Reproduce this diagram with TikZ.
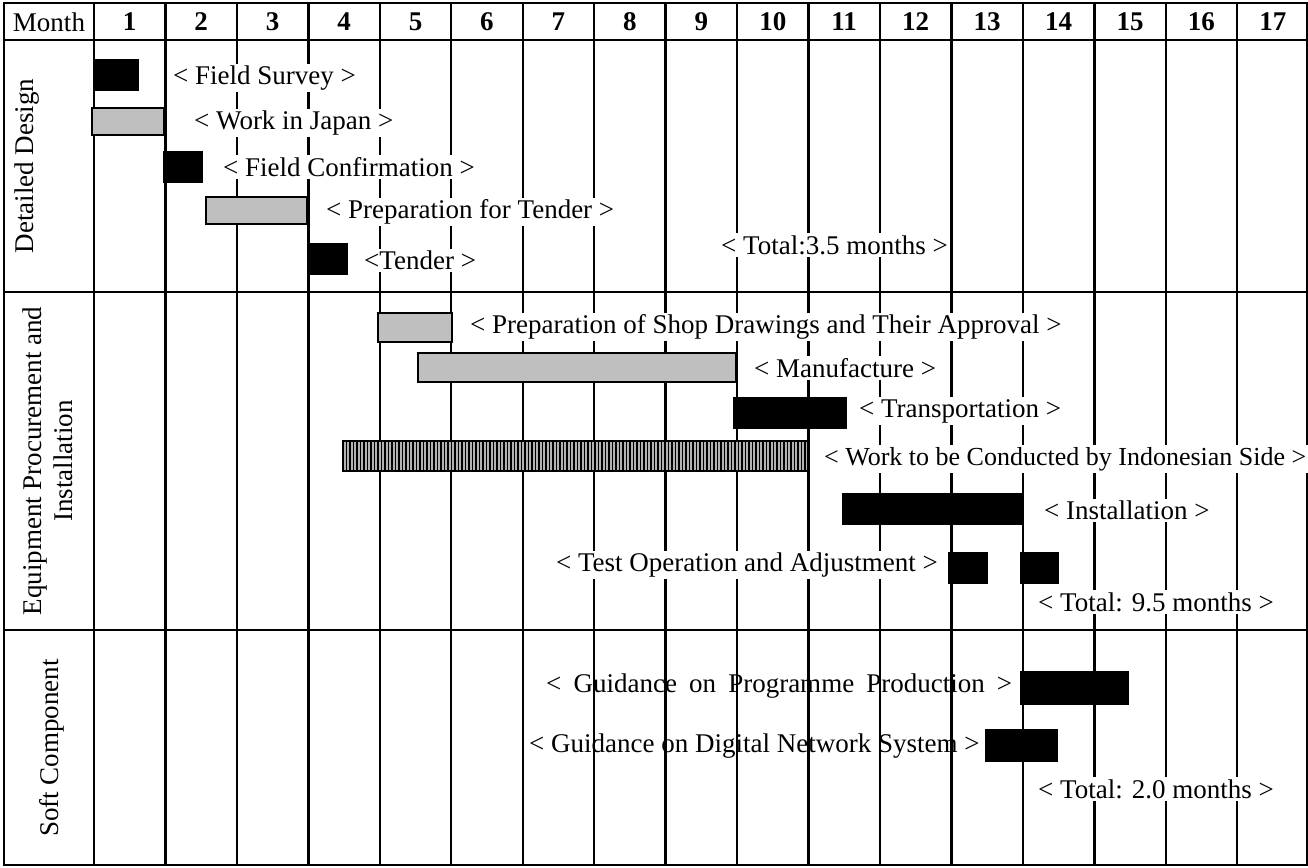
\documentclass[tikz,border=0pt]{standalone}
\usepackage{fontspec}
\setmainfont{Liberation Serif}
\usetikzlibrary{patterns.meta}

\begin{document}
\begin{tikzpicture}[x=0.5pt, y=-0.5pt, line width=1.2pt,
    every node/.style={font=\fontsize{13.5}{15.5}\selectfont, inner sep=1pt},
    hdr/.style={font=\fontsize{13.5}{15.5}\selectfont\bfseries},
    lbl/.style={anchor=west, fill=white},
    blackbar/.style={fill=black, draw=black, line width=0.6pt},
    graybar/.style={fill=black!25, draw=black, line width=1pt},
    hatchbar/.style={fill=black!30, draw=black, line width=1pt,
        postaction={pattern={Lines[angle=90, distance=1.75pt, line width=0.6pt]}, pattern color=black}}]
    \useasboundingbox (0,0) rectangle (1308,868);
    \clip (0,0) rectangle (1308,868);

    % table grid
    \draw (4,3) rectangle (1307,865);
    \foreach \y in {40,292,630} \draw (4,\y) -- (1307,\y);
    \draw (94,3) -- (94,865);
    \foreach \i in {1,...,16} \draw ({94+71.45*\i},3) -- ({94+71.45*\i},865);

    % header
    \node (month) at (49,22) {Month};
    \foreach \i in {1,...,17} \node[hdr] (m\i) at ({94+71.45*(\i-0.5)},22) {\i};

    % row titles
    \node[rotate=90] (dd) at (27,166) {Detailed Design};
    \node[rotate=90, align=center] (ep) at (48,461) {Equipment Procurement and\\Installation};
    \node[rotate=90] (sc) at (52,748) {Soft Component};

    % detailed design
    \draw[blackbar] (94,60) rectangle (138,90);
    \draw[graybar] (92,108) rectangle (164,135);
    \draw[blackbar] (164,152) rectangle (202,182);
    \draw[graybar] (206,197) rectangle (307,224);
    \draw[blackbar] (309,244) rectangle (347,274);
    \node[lbl] (fs) at (170,78) {< Field Survey >};
    \node[lbl] (wj) at (191,123) {< Work in Japan >};
    \node[lbl] (fc) at (220,167) {< Field Confirmation >};
    \node[lbl] (pt) at (323,212) {< Preparation for Tender >};
    \node[lbl] (td) at (361,260) {<Tender >};
    \node[lbl] (t1) at (718,245) {< Total:3.5 months >};

    % equipment procurement and installation
    \draw[graybar] (378,313) rectangle (452,342);
    \draw[graybar] (418,353) rectangle (736,382);
    \draw[blackbar] (734,398) rectangle (846,428);
    \draw[hatchbar] (343,441) rectangle (808,471);
    \draw[blackbar] (843,494) rectangle (1023,524);
    \draw[blackbar] (949,553) rectangle (987,583);
    \draw[blackbar] (1021,553) rectangle (1058,583);
    \node[lbl] (sd) at (467,327) {< Preparation of Shop Drawings and Their Approval >};
    \node[lbl] (mf) at (751,368) {< Manufacture >};
    \node[lbl] (tr) at (856,411) {< Transportation >};
    \node[lbl, font=\fontsize{13}{15.5}\selectfont] (ws) at (821,459) {< Work to be Conducted by Indonesian Side >};
    \node[lbl] (in) at (1041,510) {< Installation >};
    \node[lbl, anchor=east] (to) at (941,565) {< Test Operation and Adjustment >};
    \node[lbl] (t2) at (1035,602) {< Total: 9.5 months >};

    % soft component
    \draw[blackbar] (1021,672) rectangle (1128,704);
    \draw[blackbar] (986,730) rectangle (1057,761);
    \node[anchor=west] (gp) at (543,686) {\makebox[233pt][s]{< Guidance on Programme Production >}};
    \node[anchor=west] (gd) at (526,746) {< Guidance on Digital Network System >};
    \node[lbl] (t3) at (1035,789) {< Total: 2.0 months >};
\end{tikzpicture}
\end{document}
